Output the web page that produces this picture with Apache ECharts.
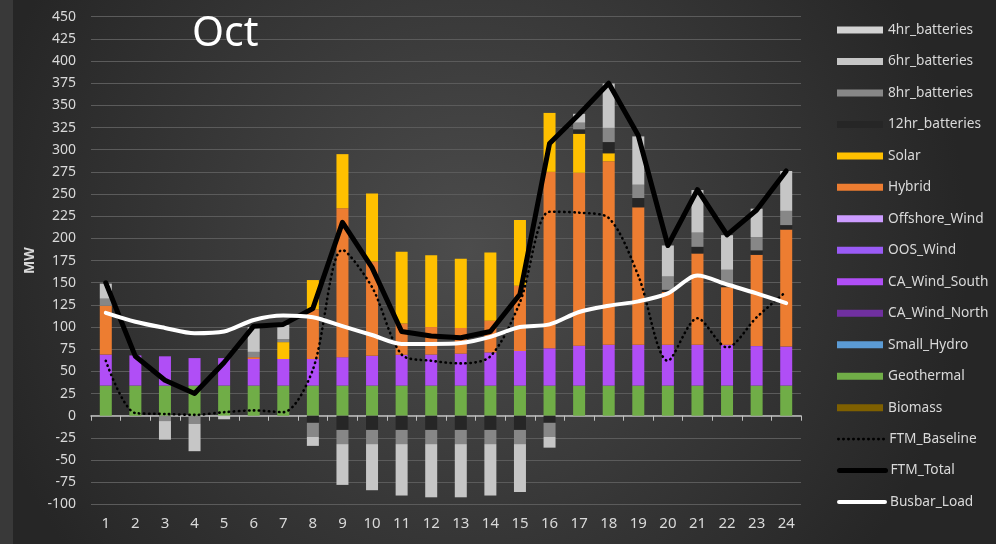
<!DOCTYPE html>
<html>
<head>
<meta charset="utf-8">
<script src="https://cdn.jsdelivr.net/npm/echarts@6.0.0/dist/echarts.min.js"></script>
<style>
html,body{margin:0;padding:0;background:#2b2b2b;}
#chart{width:996px;height:544px;}
</style>
</head>
<body>
<div id="chart"></div>
<script>
// ---------------- DATA ----------------
const hours = ['1','2','3','4','5','6','7','8','9','10','11','12','13','14','15','16','17','18','19','20','21','22','23','24'];
const chartTitle = 'Oct';
const yAxisName = 'MW';
const yMin = -100, yMax = 450, yStep = 25;

const biomass      = [0,0,0,0,0,0,0,0,0,0,0,0,0,0,0,0,0,0,0,0,0,0,0,0];
const geothermal   = [34,34,34,34,34,34,34,34,34,34,34,34,34,34,34,34,34,34,34,34,34,34,34,34];
const smallHydro   = [0,0,0,0,0,0,0,0,0,0,0,0,0,0,0,0,0,0,0,0,0,0,0,0];
const caWindNorth  = [0,0,0,0,0,0,0,0,0,0,0,0,0,0,0,0,0,0,0,0,0,0,0,0];
const caWindSouth  = [35,34,33,31,31,30,30,30,32,33.5,34.7,35,36,37.4,39,42,45,46,46,46,46,46,44.5,44];
const oosWind      = [0,0,0,0,0,0,0,0,0,0,0,0,0,0,0,0,0,0,0,0,0,0,0,0];
const offshoreWind = [0,0,0,0,0,0,0,0,0,0,0,0,0,0,0,0,0,0,0,0,0,0,0,0];
const hybrid       = [55,0,0,0,0,2,0,56,168,106.5,35.3,31,29,35.6,73.7,199,195,207,155,59.5,103,65,103,132];
const solar        = [0,0,0,0,0,0,19,33,61,76.6,81,81,78,77,74,66.5,44,9,0,0,0,0,0,0];
const bat12hr      = [0,0,0,0,0,0,0,-8,-16,-16,-16,-16,-16,-16,-16,-8,5,12.6,10.5,2.5,7.5,2,5,5];
const bat8hr       = [8,0,-6,-9,0,6,3.5,-16,-16,-16,-16,-16,-16,-16,-16,-16,7.5,16,15,15,16,17.6,15,16];
const bat6hr       = [17,0,-21,-31,-4,28,16,-10,-46,-52,-58,-60,-60,-58,-54,-12,10,50,54.5,35,48,39,32,45];
const bat4hr       = [0,0,0,0,0,0,0,0,0,0,0,0,0,0,0,0,0,0,0,0,0,0,0,0];

const ftmBaseline  = [62,3,2,1,4,6,4,52,187,145,69,62,59,67,128,230,229,223,158,62,110,77,111,140];
const ftmTotal     = [150,67,40,25,60,101,103,121,218,167,95,90,88,95,137,307,340,375,316,192,255,204,232,276];
const busbarLoad   = [116,106,99,93,95,108,113,111,101,91,81,81,82,89,100,103,117,124,129,138,158,148,138,127];

// ---------------- STYLE ----------------
const barDefs = [
  ['Biomass', biomass, '#7f6000'],
  ['Geothermal', geothermal, '#70ad47'],
  ['Small_Hydro', smallHydro, '#5b9bd5'],
  ['CA_Wind_North', caWindNorth, '#7030a0'],
  ['CA_Wind_South', caWindSouth, '#b04ef6'],
  ['OOS_Wind', oosWind, '#9a5bf6'],
  ['Offshore_Wind', offshoreWind, '#cc9cff'],
  ['Hybrid', hybrid, '#ed7d31'],
  ['Solar', solar, '#ffc000'],
  ['12hr_batteries', bat12hr, '#262626'],
  ['8hr_batteries', bat8hr, '#878787'],
  ['6hr_batteries', bat6hr, '#c6c6c6'],
  ['4hr_batteries', bat4hr, '#d2d2d2']
];
const lineDefs = [
  ['FTM_Baseline', ftmBaseline, {color:'#000', width:2.6, type:[0.4,4.6], cap:'round'}, 0.3],
  ['FTM_Total', ftmTotal, {color:'#000', width:5, type:'solid', cap:'round'}, 0],
  ['Busbar_Load', busbarLoad, {color:'#fff', width:4, type:'solid', cap:'round'}, 0.3]
];

const FONT = 'Noto Sans';
const series = [];
barDefs.forEach(([name, data, color]) => {
  series.push({
    name, type:'bar', stack:'gen', stackStrategy:'samesign',
    data, barWidth:12, xAxisIndex:0,
    itemStyle:{color}, emphasis:{disabled:true}, silent:true
  });
});
lineDefs.forEach(([name, data, ls, sm]) => {
  series.push({
    name, type:'line', data, xAxisIndex:0, symbol:'none', smooth:sm,
    lineStyle:{color:ls.color, width:ls.width, type:ls.type, cap:ls.cap, join:'round'},
    itemStyle:{color:ls.color}, emphasis:{disabled:true}, silent:true, z:5
  });
});

// legend order (top to bottom)
const legendOrder = ['4hr_batteries','6hr_batteries','8hr_batteries','12hr_batteries','Solar','Hybrid',
  'Offshore_Wind','OOS_Wind','CA_Wind_South','CA_Wind_North','Small_Hydro','Geothermal','Biomass',
  'FTM_Baseline','FTM_Total','Busbar_Load'];
const legendCenter0 = 30, legendStep = 31.47;
const legends = legendOrder.map((n, i) => {
  const ld = lineDefs.find(d => d[0] === n);
  const o = {
    data:[n], left:837, top: legendCenter0 + i*legendStep - 7, orient:'vertical',
    padding:0, itemWidth:46, itemHeight:7, selectedMode:false,
    textStyle:{color:'#d9d9d9', fontSize:13.7, fontFamily:FONT}
  };
  if (ld) {
    o.lineStyle = {width: ld[2].width, type: ld[2].type, color: ld[2].color, cap: ld[2].cap};
    o.itemStyle = {opacity:0, color:'rgba(0,0,0,0)', borderWidth:0};
  } else {
    o.icon = 'rect';
  }
  return o;
});

const chart = echarts.init(document.getElementById('chart'), null, {renderer:'canvas'});
chart.setOption({
  animation:false,
  backgroundColor: new echarts.graphic.RadialGradient(0.47, 0.46, 0.92, [
    {offset:0, color:'#4c4c4c'}, {offset:1, color:'#262626'}
  ]),
  graphic:[{type:'rect', left:0, top:0, shape:{width:13, height:544}, style:{fill:'#393939'}, z:-10, silent:true}],
  title:{text:chartTitle, left:187, top:9, textStyle:{color:'#ffffff', fontSize:41, fontWeight:'normal', fontFamily:FONT}},
  legend: legends,
  grid:{left:91, right:195, top:16.7, bottom:39.6, outerBoundsMode:'none', containLabel:false},
  xAxis:[
    {type:'category', data:hours, position:'bottom',
     axisLine:{show:true, onZero:true, lineStyle:{color:'#bfbfbf', width:1.5}},
     axisTick:{show:true, alignWithLabel:false, length:5, lineStyle:{color:'#bfbfbf', width:1}},
     axisLabel:{show:false}, splitLine:{show:false}},
    {type:'category', data:hours, position:'bottom',
     axisLine:{show:false, onZero:false}, axisTick:{show:false},
     axisLabel:{show:true, interval:0, color:'#d9d9d9', fontSize:15, fontFamily:FONT, margin:12},
     splitLine:{show:false}}
  ],
  yAxis:{type:'value', min:yMin, max:yMax, interval:yStep,
    name:yAxisName, nameLocation:'middle', nameGap:54, nameRotate:90,
    nameTextStyle:{color:'#d9d9d9', fontWeight:'bold', fontSize:14, fontFamily:FONT},
    axisLine:{show:false}, axisTick:{show:false},
    axisLabel:{color:'#d9d9d9', fontSize:14, fontFamily:FONT, margin:15},
    splitLine:{show:true, lineStyle:{color:'#5b5b5b', width:1}}
  },
  series
});
</script>
</body>
</html>
